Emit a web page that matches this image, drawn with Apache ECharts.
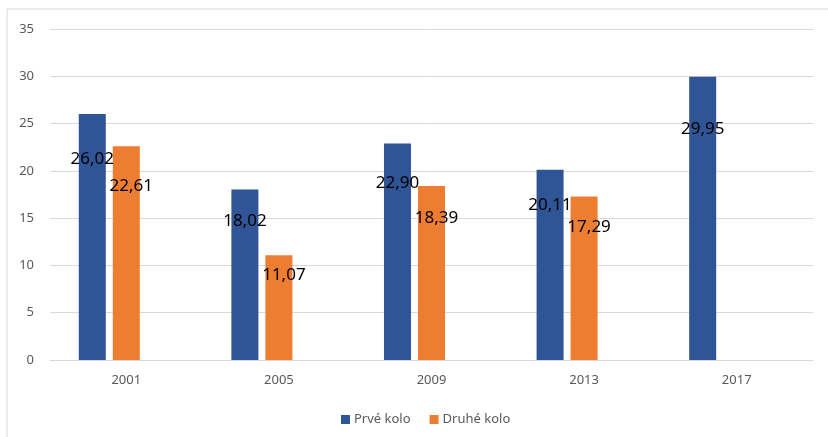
<!DOCTYPE html>
<html>
<head>
<meta charset="utf-8">
<script src="https://cdn.jsdelivr.net/npm/echarts@6/dist/echarts.min.js"></script>
<style>
html,body{margin:0;padding:0;background:#fff;}
#c{width:828px;height:437px;}
</style>
</head>
<body>
<div id="c"></div>
<script>
var categories = ['2001', '2005', '2009', '2013', '2017'];
var prveKolo = [26.02, 18.02, 22.90, 20.11, 29.95];
var druheKolo = [22.61, 11.07, 18.39, 17.29, null];
var emptySeries = [null, null, null, null, null];
var yTicks = { min: 0, max: 35, interval: 5 };

var chart = echarts.init(document.getElementById('c'));
function fmt(p) { return p.value == null ? '' : p.value.toFixed(2).replace('.', ','); }
var labelStyle = function (dx) {
  return {
    show: true,
    position: ['50%', '18.5%'],
    align: 'center',
    verticalAlign: 'middle',
    offset: [dx, 0],
    color: '#000',
    fontSize: 17,
    fontFamily: 'Noto Sans',
    formatter: fmt
  };
};
chart.setOption({
  animation: false,
  graphic: [{
    type: 'rect',
    shape: { x: 7, y: 9, width: 840, height: 450 },
    style: { fill: 'none', stroke: '#d9d9d9', lineWidth: 1 },
    silent: true
  }],
  grid: { left: 50, right: 15, top: 29, bottom: 77 },
  legend: {
    data: ['Prvé kolo', 'Druhé kolo'],
    left: 336,
    top: 408,
    icon: 'rect',
    itemWidth: 9,
    itemHeight: 9,
    itemGap: 19,
    textStyle: { color: '#595959', fontSize: 13, fontFamily: 'Noto Sans', padding: [0, 0, 0, -1] }
  },
  xAxis: {
    type: 'category',
    data: categories,
    axisTick: { show: false },
    axisLine: { lineStyle: { color: '#d9d9d9', width: 1 } },
    axisLabel: { color: '#595959', fontSize: 13, fontFamily: 'Noto Sans', margin: 14 }
  },
  yAxis: {
    type: 'value',
    min: yTicks.min,
    max: yTicks.max,
    interval: yTicks.interval,
    axisLine: { show: false },
    axisTick: { show: false },
    splitLine: { lineStyle: { color: '#d9d9d9', width: 1 } },
    axisLabel: { color: '#595959', fontSize: 13, fontFamily: 'Noto Sans', margin: 16 }
  },
  series: [
    { name: 'Prvé kolo', type: 'bar', data: prveKolo, barWidth: 27, barGap: '26%', barCategoryGap: '38%',
      itemStyle: { color: '#2f5597' }, label: labelStyle(0) },
    { name: 'Druhé kolo', type: 'bar', data: druheKolo, barWidth: 27, barGap: '26%',
      itemStyle: { color: '#ed7d31' }, label: labelStyle(5) },
    { name: 'empty', type: 'bar', data: emptySeries, barWidth: 27, barGap: '26%',
      itemStyle: { color: '#a5a5a5' } }
  ]
});
</script>
</body>
</html>
